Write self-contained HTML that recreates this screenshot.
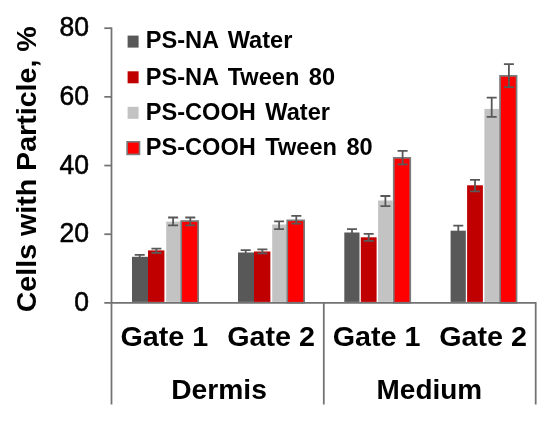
<!DOCTYPE html>
<html><head><meta charset="utf-8"><title>Chart</title><style>html,body{margin:0;padding:0;background:#fff}</style></head><body>
<svg width="550" height="421" viewBox="0 0 550 421" style="display:block;font-family:'Liberation Sans',Arial,sans-serif">
<defs><filter id="soft" x="0" y="0" width="550" height="421" filterUnits="userSpaceOnUse"><feGaussianBlur stdDeviation="0.45"/></filter></defs>
<rect width="550" height="421" fill="#fff"/>
<g filter="url(#soft)">
<rect x="132.00" y="256.80" width="16.00" height="45.10" fill="#595959"/>
<rect x="148.00" y="250.40" width="16.40" height="51.50" fill="#c00000"/>
<rect x="166.20" y="221.60" width="14.40" height="80.30" fill="#c3c3c3"/>
<rect x="181.25" y="221.05" width="16.90" height="81.70" fill="#ff0000" stroke="#7b7b7b" stroke-width="1.7"/>
<path d="M134.70 254.90H144.70M139.70 254.90V258.30M134.70 258.30H144.70" stroke="#595959" stroke-width="1.8" fill="none"/>
<path d="M151.40 248.70H161.40M156.40 248.70V252.80M151.40 252.80H161.40" stroke="#595959" stroke-width="1.8" fill="none"/>
<path d="M168.10 217.50H178.10M173.10 217.50V225.30M168.10 225.30H178.10" stroke="#595959" stroke-width="1.8" fill="none"/>
<path d="M185.30 217.50H195.30M190.30 217.50V225.30M185.30 225.30H195.30" stroke="#595959" stroke-width="1.8" fill="none"/>
<rect x="238.00" y="252.50" width="16.00" height="49.40" fill="#595959"/>
<rect x="254.00" y="251.50" width="16.40" height="50.40" fill="#c00000"/>
<rect x="272.20" y="224.50" width="14.40" height="77.40" fill="#c3c3c3"/>
<rect x="287.25" y="220.35" width="16.90" height="82.40" fill="#ff0000" stroke="#7b7b7b" stroke-width="1.7"/>
<path d="M240.70 250.10H250.70M245.70 250.10V254.90M240.70 254.90H250.70" stroke="#595959" stroke-width="1.8" fill="none"/>
<path d="M257.40 249.30H267.40M262.40 249.30V253.40M257.40 253.40H267.40" stroke="#595959" stroke-width="1.8" fill="none"/>
<path d="M274.10 221.40H284.10M279.10 221.40V229.10M274.10 229.10H284.10" stroke="#595959" stroke-width="1.8" fill="none"/>
<path d="M291.30 215.80H301.30M296.30 215.80V223.70M291.30 223.70H301.30" stroke="#595959" stroke-width="1.8" fill="none"/>
<rect x="344.30" y="232.50" width="15.20" height="69.40" fill="#595959"/>
<rect x="360.80" y="237.30" width="15.80" height="64.60" fill="#c00000"/>
<rect x="378.10" y="200.50" width="14.60" height="101.40" fill="#c3c3c3"/>
<rect x="393.75" y="157.85" width="16.50" height="144.90" fill="#ff0000" stroke="#7b7b7b" stroke-width="1.7"/>
<path d="M347.00 229.20H357.00M352.00 229.20V235.80M347.00 235.80H357.00" stroke="#595959" stroke-width="1.8" fill="none"/>
<path d="M363.70 233.90H373.70M368.70 233.90V240.90M363.70 240.90H373.70" stroke="#595959" stroke-width="1.8" fill="none"/>
<path d="M380.40 196.00H390.40M385.40 196.00V206.20M380.40 206.20H390.40" stroke="#595959" stroke-width="1.8" fill="none"/>
<path d="M397.60 150.90H407.60M402.60 150.90V164.40M397.60 164.40H407.60" stroke="#595959" stroke-width="1.8" fill="none"/>
<rect x="450.60" y="230.70" width="15.20" height="71.20" fill="#595959"/>
<rect x="467.10" y="185.30" width="15.80" height="116.60" fill="#c00000"/>
<rect x="484.40" y="108.90" width="14.60" height="193.00" fill="#c3c3c3"/>
<rect x="500.05" y="75.85" width="16.50" height="226.90" fill="#ff0000" stroke="#7b7b7b" stroke-width="1.7"/>
<path d="M453.30 225.70H463.30M458.30 225.70V235.70M453.30 235.70H463.30" stroke="#595959" stroke-width="1.8" fill="none"/>
<path d="M470.00 179.90H480.00M475.00 179.90V191.40M470.00 191.40H480.00" stroke="#595959" stroke-width="1.8" fill="none"/>
<path d="M486.70 97.60H496.70M491.70 97.60V116.80M486.70 116.80H496.70" stroke="#595959" stroke-width="1.8" fill="none"/>
<path d="M503.90 64.10H513.90M508.90 64.10V87.10M503.90 87.10H513.90" stroke="#595959" stroke-width="1.8" fill="none"/>
<path d="M111.5 27.4V404.5M104.3 302.9H536.6M323.8 302.9V404.5M535.7 302.9V404.5" stroke="#727272" stroke-width="1.75" fill="none"/>
<text transform="translate(88.9,311.10) scale(0.965,1)" font-size="27.5" text-anchor="end" fill="#000" stroke="#000" stroke-width="0.55">0</text>
<path d="M104.3 234.22H111.5" stroke="#727272" stroke-width="1.75"/>
<text transform="translate(88.9,242.42) scale(0.965,1)" font-size="27.5" text-anchor="end" fill="#000" stroke="#000" stroke-width="0.55">20</text>
<path d="M104.3 165.54H111.5" stroke="#727272" stroke-width="1.75"/>
<text transform="translate(88.9,173.74) scale(0.965,1)" font-size="27.5" text-anchor="end" fill="#000" stroke="#000" stroke-width="0.55">40</text>
<path d="M104.3 96.86H111.5" stroke="#727272" stroke-width="1.75"/>
<text transform="translate(88.9,105.06) scale(0.965,1)" font-size="27.5" text-anchor="end" fill="#000" stroke="#000" stroke-width="0.55">60</text>
<path d="M104.3 28.18H111.5" stroke="#727272" stroke-width="1.75"/>
<text transform="translate(88.9,36.38) scale(0.965,1)" font-size="27.5" text-anchor="end" fill="#000" stroke="#000" stroke-width="0.55">80</text>
<text transform="translate(35.8,169.3) rotate(-90)" font-size="28" font-weight="bold" text-anchor="middle" textLength="286" lengthAdjust="spacingAndGlyphs">Cells with Particle, %</text>
<rect x="127.6" y="35.60" width="11" height="12" fill="#595959"/>
<text x="145.7" y="48.30" font-size="23.6" word-spacing="2.9" font-weight="bold">PS-NA Water</text>
<rect x="127.6" y="71.30" width="11" height="12" fill="#c00000"/>
<text x="145.7" y="84.50" font-size="23.6" word-spacing="2.9" font-weight="bold">PS-NA Tween 80</text>
<rect x="127.6" y="106.80" width="11" height="12" fill="#c3c3c3"/>
<text x="145.7" y="120.20" font-size="23.6" word-spacing="2.9" font-weight="bold">PS-COOH Water</text>
<rect x="127.1" y="141.80" width="12.4" height="12.6" fill="#ff0000" stroke="#7b7b7b" stroke-width="1.6"/>
<text x="145.7" y="154.90" font-size="23.6" word-spacing="2.9" font-weight="bold">PS-COOH Tween 80</text>
<text transform="translate(164.4,346.4) scale(1.025,1)" font-size="28" font-weight="bold" text-anchor="middle">Gate 1</text>
<text transform="translate(271.0,346.4) scale(1.025,1)" font-size="28" font-weight="bold" text-anchor="middle">Gate 2</text>
<text transform="translate(376.5,346.4) scale(1.025,1)" font-size="28" font-weight="bold" text-anchor="middle">Gate 1</text>
<text transform="translate(483,346.4) scale(1.025,1)" font-size="28" font-weight="bold" text-anchor="middle">Gate 2</text>
<text transform="translate(219.05,399) scale(1.008,1)" font-size="28" font-weight="bold" text-anchor="middle">Dermis</text>
<text transform="translate(429.35,399) scale(0.998,1)" font-size="28" font-weight="bold" text-anchor="middle">Medium</text>
</g>
</svg>
</body></html>
